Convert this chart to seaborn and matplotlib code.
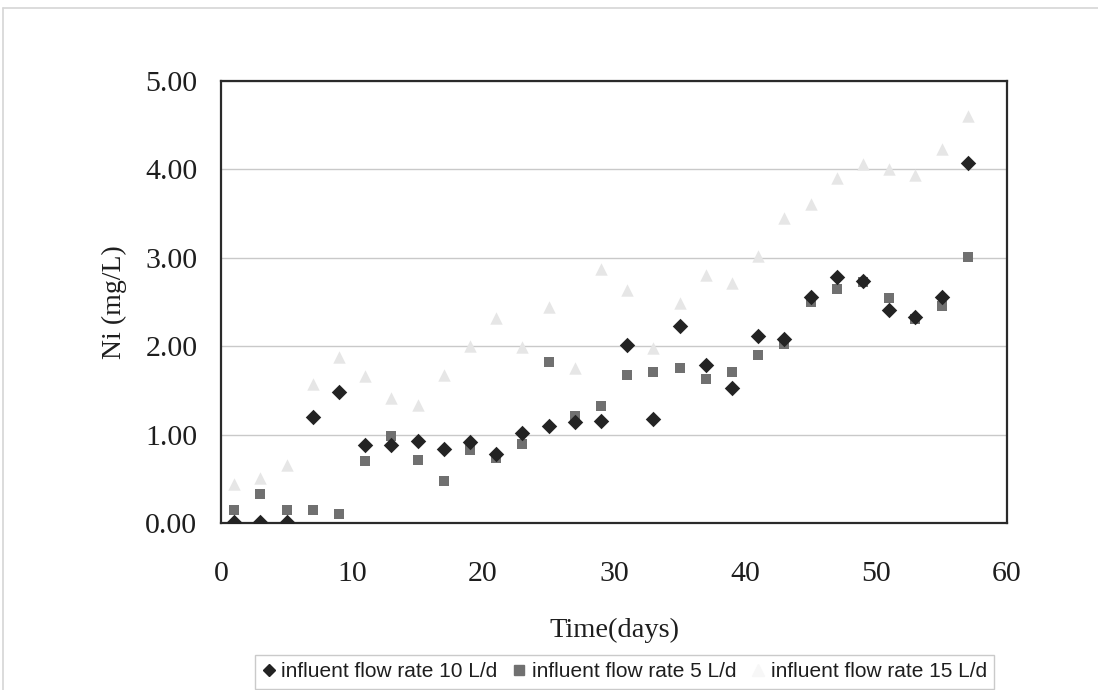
import numpy as np
import pandas as pd
import matplotlib
matplotlib.use("Agg")
import matplotlib.pyplot as plt
from matplotlib.lines import Line2D
import seaborn as sns

# Sampling days (every other day)
days = [1, 3, 5, 7, 9, 11, 13, 15, 17, 19, 21, 23, 25, 27, 29,
        31, 33, 35, 37, 39, 41, 43, 45, 47, 49, 51, 53, 55, 57]

# Effluent Ni concentration (mg/L) for each influent flow rate
ni_10 = [0.01, 0.01, 0.01, 1.20, 1.48, 0.89, 0.88, 0.93, 0.84, 0.92, 0.78, 1.02, 1.10, 1.15, 1.16,
         2.01, 1.18, 2.23, 1.79, 1.53, 2.12, 2.08, 2.56, 2.78, 2.74, 2.41, 2.33, 2.56, 4.07]
ni_5 = [0.15, 0.33, 0.15, 0.15, 0.11, 0.70, 0.99, 0.72, 0.48, 0.83, 0.74, 0.90, 1.82, 1.21, 1.32,
        1.67, 1.71, 1.75, 1.63, 1.71, 1.90, 2.02, 2.50, 2.65, 2.73, 2.54, 2.31, 2.46, 3.01]
ni_15 = [0.44, 0.51, 0.66, 1.57, 1.88, 1.66, 1.41, 1.34, 1.68, 2.00, 2.32, 1.99, 2.44, 1.76, 2.87,
         2.64, 1.98, 2.49, 2.81, 2.72, 3.02, 3.45, 3.61, 3.90, 4.06, 4.00, 3.94, 4.23, 4.60]

series_labels = ["influent flow rate 10 L/d", "influent flow rate 5 L/d", "influent flow rate 15 L/d"]
y_ticks = [0, 1, 2, 3, 4, 5]
x_ticks = [0, 10, 20, 30, 40, 50, 60]

sns.set_theme(style="white")
plt.rcParams["font.family"] = ["Liberation Serif", "DejaVu Serif"]

fig = plt.figure(figsize=(10.98, 6.90), dpi=100)
ax = fig.add_axes([221 / 1098, 1 - 523.3 / 690, (1007 - 221) / 1098, (523.3 - 80.7) / 690])

styles = [
    dict(marker="D", color="#232323", s=62),
    dict(marker="s", color="#707070", s=62),
    dict(marker="^", color="#e6e6e6", s=80),
]
frames = []
for vals, lab in zip([ni_10, ni_5, ni_15], series_labels):
    frames.append(pd.DataFrame({"day": days, "ni": vals, "series": lab}))
df = pd.concat(frames, ignore_index=True)

# draw the lightest series first so the darker ones sit on top
for lab, st in reversed(list(zip(series_labels, styles))):
    sns.scatterplot(data=df[df["series"] == lab], x="day", y="ni", ax=ax,
                    marker=st["marker"], color=st["color"], s=st["s"],
                    linewidth=0, legend=False, zorder=3)

ax.set_xlim(0, 60)
ax.set_ylim(0, 5)
ax.set_xticks(x_ticks)
ax.set_yticks(y_ticks)
ax.set_yticklabels([f"{v:.2f}" for v in y_ticks])
ax.set_xticklabels([str(v) for v in x_ticks])
ax.yaxis.grid(True, color="#c9c9c9", linewidth=1.0)
ax.xaxis.grid(False)
ax.set_axisbelow(True)
for sp in ax.spines.values():
    sp.set_color("#2a2a2a")
    sp.set_linewidth(1.6)
ax.tick_params(axis="both", which="major", direction="out", length=4, width=1,
               color="#9a9a9a", labelsize=21.5, labelcolor="#1e1e1e")
ax.tick_params(axis="y", pad=13)
ax.tick_params(axis="x", pad=23)
ax.set_xlabel("Time(days)", fontsize=20.5, color="#1e1e1e", labelpad=22)
ax.set_ylabel("Ni (mg/L)", fontsize=20, color="#1e1e1e", labelpad=13)

handles = [
    Line2D([], [], linestyle="none", marker="D", markersize=6.5, color="#232323"),
    Line2D([], [], linestyle="none", marker="s", markersize=7, color="#707070"),
    Line2D([], [], linestyle="none", marker="^", markersize=8, color="#f7f7f7"),
]
leg = fig.legend(handles, series_labels, loc="upper left", ncol=3,
                 bbox_to_anchor=(255 / 1098, 1 - 655 / 690),
                 frameon=True, fancybox=False, handlelength=0.6, handletextpad=0.3,
                 columnspacing=0.75, borderpad=0.35, borderaxespad=0,
                 prop={"family": ["Liberation Sans", "DejaVu Sans"], "size": 15})
leg.get_frame().set_edgecolor("#bdbdbd")
leg.get_frame().set_linewidth(1.0)
for t in leg.get_texts():
    t.set_color("#1e1e1e")

# thin outer border of the chart area
fig.add_artist(Line2D([3 / 1098, 1], [1 - 8 / 690, 1 - 8 / 690], transform=fig.transFigure,
                      color="#d6d6d6", linewidth=1.2))
fig.add_artist(Line2D([3 / 1098, 3 / 1098], [0, 1 - 8 / 690], transform=fig.transFigure,
                      color="#d6d6d6", linewidth=1.2))

fig.savefig("out.png", dpi=100)
